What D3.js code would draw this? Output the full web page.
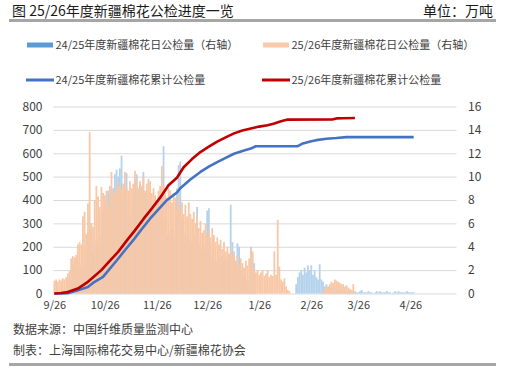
<!DOCTYPE html>
<html>
<head>
<meta charset="utf-8">
<script src="https://cdn.jsdelivr.net/npm/d3@7"></script>
<style>
  body { margin: 0; background: #fff; }
  svg { display: block; }
  text { font-family: "Noto Sans CJK SC", "Noto Sans", sans-serif; }
</style>
</head>
<body>
<svg id="chart" width="511" height="373"></svg>
<script>
// daily inspected volume, 万吨, one value per day starting 9/26 (right axis)
var startDay = "9/26";
var daily2425 = [
  0.1,0.1,0.1,0.1,0.1,0.1,0.1,0.2,
  1.0,1.5,2.0,2.5,2.5,3.0,
  2.0,2.2,2.4,2.0,2.6,3.8,
  5.0,5.5,6.0,
  3.5,4.0,4.5,4.2,4.8,5.0,
  7.0,7.8,8.4,8.8,9.2,8.6,9.0,10.2,
  10.6,10.0,10.7,11.8,8.0,9.0,10.3,7.0,6.4,7.0,
  9.0,9.6,10.2,8.8,9.4,9.0,10.4,8.6,8.0,8.6,
  7.2,7.6,6.8,7.4,8.0,7.2,7.6,8.2,12.6,6.4,
  5.0,5.4,5.2,5.6,5.0,4.6,9.0,11.0,
  11.3,6.4,5.2,4.8,5.0,4.6,5.2,4.4,5.0,4.6,7.4,4.4,
  4.0,3.6,4.2,3.8,7.1,7.3,3.4,3.0,2.8,2.6,
  2.8,3.0,2.6,3.2,2.8,3.0,2.6,3.4,7.6,4.4,
  3.0,2.4,4.3,4.0,2.0,1.6,1.4,1.2,1.0,1.1,
  4.0,3.4,2.6,
  0,0,0,0,0,0,0,0,0,0,0,0,0,0,0,0,0,0,0,0,0,0,0,0,
  0.8,1.4,1.8,2.0,1.6,2.2,1.8,2.4,2.0,2.4,1.6,2.0,1.4,1.2,2.5,1.2,1.0,0.6,
  0.8,0.6,0.5,0.4,0.5,0.3,0.4,0.3,0.4,0.3,0.2,0.2,
  0.1,0.2,0.1,0.1,0.2,0.1,0.1,0.1,0.2,0.3,0.1,0.1,0.1,0.2,0.1,0.1,0,0.1,0.2,0.1,
  0.2,0.1,0.1,0.1,0.2,0.1,0.1,0,0.1,0.2,0.1,0.2,0.1,0.1,0.1,0.1,0.2,0.1,0.1,0.1,0.1
];
var daily2526 = [
  1.1,1.2,1.0,1.2,1.1,1.3,1.2,1.4,
  1.7,1.9,3.0,3.2,3.1,3.3,
  4.2,4.4,4.2,6.6,7.0,5.1,7.7,
  13.8,6.0,5.7,8.0,9.2,8.3,7.4,
  9.1,8.6,8.4,8.8,7.6,9.0,10.4,8.8,
  8.6,9.0,9.6,9.2,8.8,9.4,10.4,9.0,8.8,9.6,9.0,
  9.4,10.5,9.8,9.0,9.6,9.2,10.0,8.8,9.4,9.8,
  9.6,8.6,9.0,8.4,8.0,8.8,9.2,10.9,9.2,8.6,
  8.2,9.0,8.8,7.8,8.6,8.2,7.6,8.4,7.2,7.8,
  6.8,7.6,6.6,7.8,6.8,6.4,7.0,6.0,6.6,5.6,
  6.2,5.2,5.4,6.0,5.0,5.4,4.8,5.6,5.0,4.4,
  4.8,4.2,4.6,3.8,4.4,3.6,4.0,3.4,3.8,3.2,
  3.6,2.8,3.2,2.4,3.0,2.6,2.2,2.8,2.4,3.0,
  3.8,3.6,2.2,
  1.8,2.0,1.6,1.8,2.0,1.5,1.7,2.0,1.4,1.6,1.5,
  3.6,1.6,6.3,2.3,
  1.2,1.0,1.3,0.6,0.3,0.2,
  0,0,0,0,0,0,0,0,0,0,0,0,0,0,0,0,0,0,0,
  0.2,0.4,0.6,0.5,0.8,1.0,0.9,1.2,1.1,1.0,0.9,0.8,0.8,0.6,0.7,0.5,0.4,0.3,0.8,0.2
];

// cumulative inspected volume, 万吨 (left axis)
var cum2425Dates = ["9/26","9/30","10/4","10/10","10/16","10/19","10/25","11/2","11/7","11/12","11/17","11/22","11/27","12/2","12/8","12/10","12/16","12/22","12/27","1/1","1/6","1/11","1/16","1/21","1/24","2/18","2/21","2/26","3/1","3/7","3/13","3/19","4/28"];
var cum2425 = [0,0.5,1,14,28,45,71,140,185,228,275,320,360,399,432,450,488,520,543,562,580,598,610,620,630,630,642,651,656,662,665,669,669];
var cum2526Dates = ["9/26","9/30","10/4","10/10","10/16","10/20","10/24","10/29","11/3","11/8","11/13","11/18","11/23","11/28","12/3","12/8","12/12","12/17","12/22","12/27","1/1","1/6","1/11","1/16","1/21","1/26","1/31","2/4","2/8","2/12","3/11","3/13","3/17","3/24"];
var cum2526 = [0,2,6,21,50,75,100,140,178,225,270,318,363,410,463,495,540,575,605,628,650,668,685,697,706,714,720,727,737,744,745,749,750,751];

var xTickLabels = ["9/26","10/26","11/26","12/26","1/26","2/26","3/26","4/26"];
var leftTicks = [0,100,200,300,400,500,600,700,800];
var rightTicks = [0,2,4,6,8,10,12,14,16];

var seriesNames = ["24/25年度新疆棉花日公检量（右轴）","25/26年度新疆棉花日公检量（右轴）",
                   "24/25年度新疆棉花累计公检量","25/26年度新疆棉花累计公检量"];

function dayIndex(s) {
  var p = s.split("/").map(Number);
  var t = Date.UTC(p[0] >= 9 ? 2025 : 2026, p[0] - 1, p[1]);
  var q = startDay.split("/").map(Number);
  return Math.round((t - Date.UTC(2025, q[0] - 1, q[1])) / 864e5);
}

var svg = d3.select("#chart");
var plotL = 53.5, plotR = 456.5, plotT = 106.5, plotB = 293.5;

var x = d3.scaleLinear().domain([0, 240]).range([plotL, plotR]);
var yL = d3.scaleLinear().domain([0, 800]).range([plotB, plotT]);
var yR = d3.scaleLinear().domain([0, 16]).range([plotB, plotT]);
var dayW = x(1) - x(0);

// title
svg.append("text").attr("x", 12).attr("y", 16).attr("font-size", 14).attr("fill", "#1a1a1a")
  .text("图 25/26年度新疆棉花公检进度一览");
svg.append("text").attr("x", 493).attr("y", 16).attr("font-size", 14).attr("fill", "#1a1a1a")
  .attr("text-anchor", "end").text("单位：万吨");
svg.append("rect").attr("x", 9).attr("y", 19).attr("width", 487).attr("height", 3).attr("fill", "#a6a6a6");
svg.append("rect").attr("x", 9).attr("y", 363).attr("width", 487).attr("height", 3).attr("fill", "#a6a6a6");

// grid
var grid = svg.append("g").attr("transform", "translate(" + plotL + ",0)")
  .call(d3.axisLeft(yL).tickValues(leftTicks).tickSize(-(plotR - plotL)).tickFormat(""));
grid.select(".domain").remove();
grid.selectAll("line").attr("stroke", "#d9d9d9");

// bars
svg.append("g").selectAll("rect").data(daily2425).join("rect")
  .attr("x", function(d, i) { return x(i); })
  .attr("width", dayW + 0.1)
  .attr("y", function(d) { return yR(d); })
  .attr("height", function(d) { return yR(0) - yR(d); })
  .attr("fill", "#b5d2ed");
svg.append("g").selectAll("rect").data(daily2526).join("rect")
  .attr("x", function(d, i) { return x(i); })
  .attr("width", dayW + 0.1)
  .attr("y", function(d) { return yR(d); })
  .attr("height", function(d) { return yR(0) - yR(d); })
  .attr("fill", "#f7c7a6");

// cumulative lines
var line = d3.line()
  .x(function(d) { return x(d[0] + 0.5); })
  .y(function(d) { return yL(d[1]); });
svg.append("path")
  .datum(cum2425Dates.map(function(s, i) { return [dayIndex(s), cum2425[i]]; }))
  .attr("d", line).attr("fill", "none").attr("stroke", "#4472c4")
  .attr("stroke-width", 2.6).attr("stroke-linejoin", "round");
svg.append("path")
  .datum(cum2526Dates.map(function(s, i) { return [dayIndex(s), cum2526[i]]; }))
  .attr("d", line).attr("fill", "none").attr("stroke", "#c00000")
  .attr("stroke-width", 2.6).attr("stroke-linejoin", "round");

// axes
var axL = svg.append("g").attr("transform", "translate(" + plotL + ",0)")
  .call(d3.axisLeft(yL).tickValues(leftTicks).tickSize(0).tickPadding(11));
var axR = svg.append("g").attr("transform", "translate(" + plotR + ",0)")
  .call(d3.axisRight(yR).tickValues(rightTicks).tickSize(0).tickPadding(11.5));
var axX = svg.append("g").attr("transform", "translate(0," + plotB + ")")
  .call(d3.axisBottom(x).tickValues(xTickLabels.map(function(s) { return dayIndex(s) + 0.5; }))
    .tickFormat(function(d, i) { return xTickLabels[i]; }).tickSize(0).tickPadding(8));
[axL, axR, axX].forEach(function(g) {
  g.select(".domain").remove();
  g.attr("font-family", null);
  g.selectAll("text").attr("fill", "#404040");
});
axL.attr("font-size", 12);
axR.attr("font-size", 12);
axX.attr("font-size", 11);

// legend
var legend = [
  {name: seriesNames[0], type: "bar", color: "#5b9bd5", x: 27, y: 45},
  {name: seriesNames[1], type: "bar", color: "#f8cbad", x: 263, y: 45},
  {name: seriesNames[2], type: "line", color: "#4472c4", x: 26, y: 80},
  {name: seriesNames[3], type: "line", color: "#c00000", x: 262, y: 80}
];
var lg = svg.append("g").selectAll("g").data(legend).join("g")
  .attr("transform", function(d) { return "translate(" + d.x + "," + d.y + ")"; });
lg.filter(function(d) { return d.type === "bar"; }).append("rect")
  .attr("x", 0).attr("y", -2.5).attr("width", 26).attr("height", 5).attr("fill", function(d) { return d.color; });
lg.filter(function(d) { return d.type === "line"; }).append("line")
  .attr("x1", 0).attr("x2", 28).attr("y1", 0).attr("y2", 0)
  .attr("stroke", function(d) { return d.color; }).attr("stroke-width", 3);
lg.append("text").attr("x", function(d) { return d.type === "bar" ? 28.5 : 29.5; }).attr("y", 0)
  .attr("dy", "0.36em").attr("font-size", 11).attr("fill", "#404040")
  .text(function(d) { return d.name; });

// footnotes
svg.append("text").attr("x", 13).attr("y", 334).attr("font-size", 12).attr("fill", "#404040")
  .text("数据来源：中国纤维质量监测中心");
svg.append("text").attr("x", 13).attr("y", 355).attr("font-size", 12).attr("fill", "#404040")
  .text("制表：上海国际棉花交易中心/新疆棉花协会");
</script>
</body>
</html>
